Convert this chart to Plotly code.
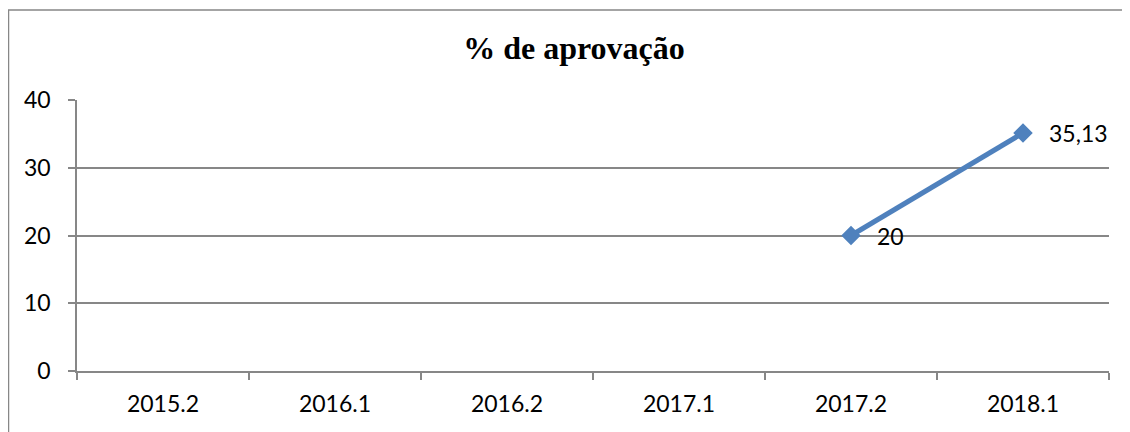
import plotly.graph_objects as go

categories = ["2015.2", "2016.1", "2016.2", "2017.1", "2017.2", "2018.1"]
approval = [None, None, None, None, 20, 35.13]
labels = ["", "", "", "", "20", "35,13"]
y_ticks = [0, 10, 20, 30, 40]

OFF = 8  # page body margin
W, H = 1130 - OFF, 432 - OFF
L, T = 77 - OFF, 100 - OFF
R = W - (1109 - OFF)
B = H - (371 - OFF)
pw, ph = W - L - R, H - T - B

LINE = "#4F81BD"
GRID = "#878787"
FONT = "Lato, 'Open Sans', sans-serif"
FS = 23

fig = go.Figure()
fig.add_trace(go.Scatter(
    x=categories, y=approval, mode="lines+markers",
    line=dict(color=LINE, width=5),
    marker=dict(symbol="diamond", size=15, color=LINE),
    connectgaps=False, showlegend=False, cliponaxis=False,
))

for i, (v, t) in enumerate(zip(approval, labels)):
    if v is not None and t:
        fig.add_annotation(x=i, y=v, text=t, showarrow=False, xanchor="left", yanchor="middle",
                           xshift=24, font=dict(family=FONT, size=FS, color="#000000"))

def px_x(v):
    return (v - OFF - L) / pw

def px_y(v):
    return (H + OFF - B - v) / ph

fig.update_layout(
    width=W, height=H,
    margin=dict(l=L, r=R, t=T, b=B, autoexpand=False),
    paper_bgcolor="white", plot_bgcolor="white",
    title=dict(text="<b>% de aprovação</b>", x=px_x(574), xref="paper", xanchor="center",
               y=1 - (48 - OFF) / H, yanchor="middle",
               font=dict(family="'Liberation Serif', 'Times New Roman', serif", size=32, color="#000000")),
    xaxis=dict(type="category", categoryorder="array", categoryarray=categories,
               range=[-0.5, 5.5], showgrid=False, showline=True, linecolor=GRID, linewidth=1.5,
               ticks="outside", tickson="boundaries", ticklen=7, tickcolor=GRID, tickwidth=1.5,
               ticklabelstandoff=12,
               tickfont=dict(family=FONT, size=FS, color="#000000"), zeroline=False),
    yaxis=dict(range=[0, 40], tickvals=y_ticks, showgrid=True, gridcolor=GRID, gridwidth=1.5,
               showline=True, linecolor=GRID, linewidth=1.5, ticks="outside", ticklen=7,
               tickcolor=GRID, tickwidth=1.5, zeroline=False, ticklabelstandoff=13,
               tickfont=dict(family=FONT, size=FS, color="#000000")),
    shapes=[dict(type="rect", xref="paper", yref="paper",
                 x0=px_x(8.5), x1=px_x(1145), y0=px_y(445), y1=px_y(10),
                 line=dict(color=GRID, width=1.5), fillcolor="rgba(0,0,0,0)", layer="below")],
)

fig.write_html("out.html")
